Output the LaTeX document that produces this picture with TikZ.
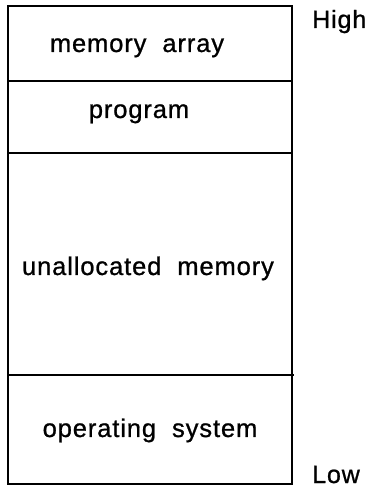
\documentclass[tikz,border=0pt]{standalone}
\usepackage{fontspec}
\setmainfont{Liberation Sans}[LetterSpace=3.5,WordSpace=2,FakeBold=0.9]
\begin{document}
\begin{tikzpicture}[x=1pt,y=1pt,
  frame/.style={line width=1.8pt},
  lbl/.style={anchor=base,inner sep=0pt,font=\fontsize{25.5}{30}\selectfont},
  side/.style={anchor=base west,inner sep=0pt,font=\fontsize{25}{30}\selectfont}]
\useasboundingbox (0,0) rectangle (370,487);
\coordinate (tl) at (8,481);
\coordinate (br) at (292,3);
\draw[frame] (tl) rectangle (br);
\coordinate (d1l) at (8,406); \coordinate (d1r) at (293,406);
\coordinate (d2l) at (8,334); \coordinate (d2r) at (293,334);
\coordinate (d3l) at (8,112); \coordinate (d3r) at (294,112);
\draw[frame] (d1l) -- (d1r);
\draw[frame] (d2l) -- (d2r);
\draw[frame] (d3l) -- (d3r);
\node[lbl] (ma) at (137,435) {memory array};
\node[lbl] (pg) at (139,369) {program};
\node[lbl] (um) at (148,212) {unallocated memory};
\node[lbl] (os) at (150,50) {operating system};
\node[side] (hi) at (312,459) {High};
\node[side] (lo) at (312,4) {Low};
\end{tikzpicture}
\end{document}
